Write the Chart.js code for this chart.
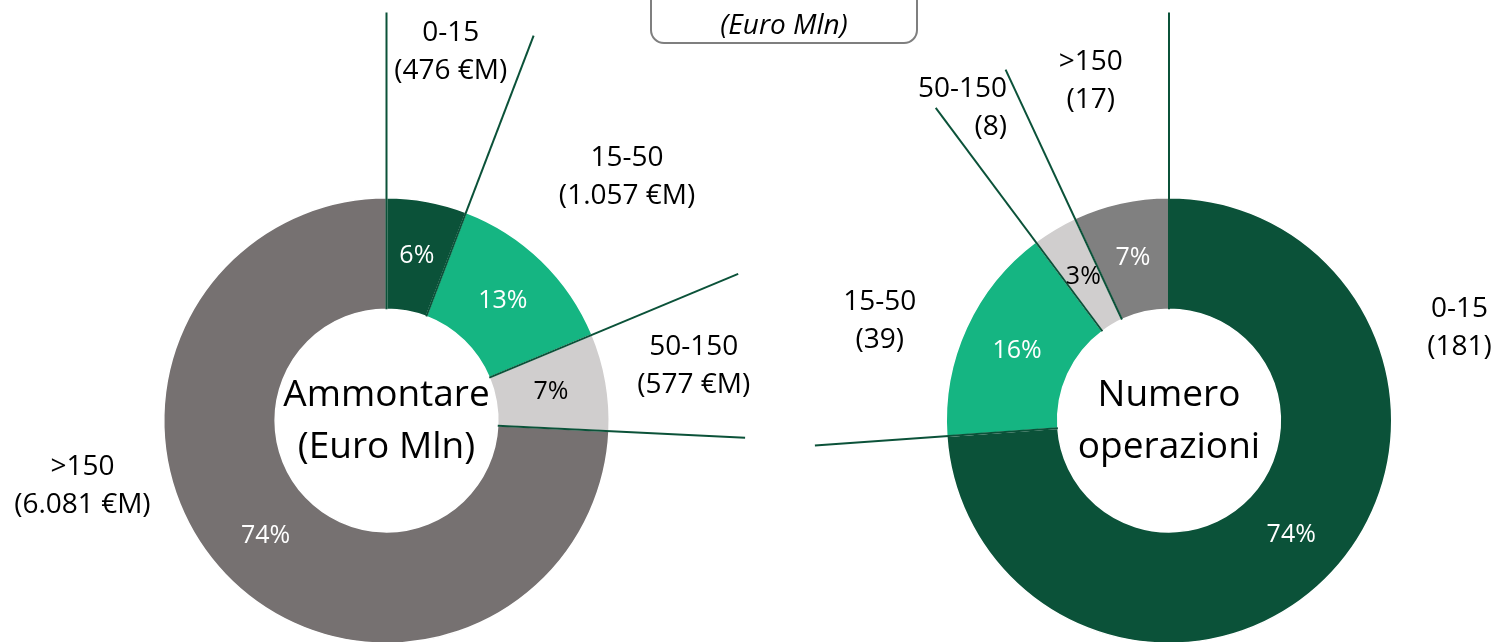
<!DOCTYPE html>
<html>
<head>
<meta charset="utf-8">
<script src="https://cdn.jsdelivr.net/npm/chart.js@4.4.0/dist/chart.umd.min.js"></script>
<style>
  html, body { margin: 0; padding: 0; background: #fff; overflow: hidden; }
  #wrap { position: relative; width: 1501px; height: 642px; overflow: hidden; }
  .cv { position: absolute; top: 0; height: 660px; }
  #left { left: 0; width: 760px; }
  #right { left: 760px; width: 741px; }
  #unit {
    position: absolute; left: 650px; top: -40px; width: 264px; height: 80px;
    border: 2px solid #7f7f7f; border-radius: 14px; box-sizing: content-box;
    font-family: "Open Sans", sans-serif; font-style: italic; font-size: 28px;
    text-align: center; line-height: 30px;
  }
  #unit span { position: absolute; left: 0; right: 0; top: 46px; }
</style>
</head>
<body>
<div id="wrap">
  <div class="cv" id="left"><canvas id="chartLeft"></canvas></div>
  <div class="cv" id="right"><canvas id="chartRight"></canvas></div>
  <div id="unit"><span>(Euro Mln)</span></div>
</div>
<script>
// classes (in order, clockwise from 12 o'clock)
const classes = ['0-15', '15-50', '50-150', '>150'];

// left: amount, Euro Mln
const ammontare = [476, 1057, 577, 6081];
const ammontareLabels = ['(476 €M)', '(1.057 €M)', '(577 €M)', '(6.081 €M)'];
const ammontareColors = ['#0b5239', '#15b582', '#d0cece', '#767171'];

// right: number of deals
const numero = [181, 39, 8, 17];
const numeroLabels = ['(181)', '(39)', '(8)', '(17)'];
const numeroColors = ['#0b5239', '#15b582', '#d0cece', '#808080'];

const FONT = '"Open Sans", sans-serif';
const LINE = '#0b5239';

function rad(deg) { return (deg - 90) * Math.PI / 180; }

// leader lines + percent labels + outer labels + centre text
const decor = {
    id: 'decor',
    afterDatasetsDraw(chart, args, opts) {
        const ctx = chart.ctx;
        const arcs = chart.getDatasetMeta(0).data;
        const vals = chart.data.datasets[0].data;
        const total = vals.reduce(function(a, b) { return a + b; }, 0);
        const cx = arcs[0].x, cy = arcs[0].y;
        ctx.save();
        // leader lines along each slice start
        ctx.strokeStyle = LINE;
        ctx.lineWidth = 2;
        arcs.forEach(function(a, i) {
            const ang = a.startAngle;
            ctx.beginPath();
            ctx.moveTo(cx + Math.cos(ang) * a.innerRadius, cy + Math.sin(ang) * a.innerRadius);
            ctx.lineTo(cx + Math.cos(ang) * opts.leader[i], cy + Math.sin(ang) * opts.leader[i]);
            ctx.stroke();
        });
        // percentages
        ctx.font = '25px ' + FONT;
        ctx.textAlign = 'center';
        ctx.textBaseline = 'middle';
        arcs.forEach(function(a, i) {
            const mid = (a.startAngle + a.endAngle) / 2;
            const r = (a.innerRadius + a.outerRadius) / 2;
            ctx.fillStyle = opts.pctColor[i];
            ctx.fillText(Math.round(vals[i] / total * 100) + '%', cx + Math.cos(mid) * r, cy + Math.sin(mid) * r);
        });
        // outer labels
        ctx.font = '28px ' + FONT;
        ctx.fillStyle = '#000';
        opts.labelAt.forEach(function(p, i) {
            const x = cx + Math.cos(rad(p[0])) * p[1];
            const y = cy + Math.sin(rad(p[0])) * p[1];
            ctx.textAlign = p[2] || 'center';
            ctx.fillText(chart.data.labels[i], x, y - 19);
            ctx.fillText(opts.valueLabels[i], x, y + 19);
        });
        // centre text
        ctx.font = '37px ' + FONT;
        ctx.textAlign = 'center';
        opts.center.forEach(function(t, k) {
            ctx.fillText(t, cx, cy - 25 + k * 52);
        });
        ctx.restore();
    }
};

function makeDonut(id, values, colors, valueLabels, pad, decorOpts) {
    decorOpts.valueLabels = valueLabels;
    return new Chart(document.getElementById(id), {
        type: 'doughnut',
        data: { labels: classes, datasets: [{ data: values, backgroundColor: colors, borderColor: '#fff', borderWidth: 1.5 }] },
        options: {
            responsive: true, maintainAspectRatio: false, animation: false,
            cutout: '50%',
            layout: { padding: pad },
            plugins: { legend: { display: false }, tooltip: { enabled: false }, decor: decorOpts }
        },
        plugins: [decor]
    });
}

makeDonut('chartLeft', ammontare, ammontareColors, ammontareLabels,
    { left: 163, right: 150, top: 197, bottom: 16 },
    {
        leader: [408, 412, 381, 359],
        labelAt: [[9.9, 374], [44.7, 342], [80, 312], [257.9, 311]],
        pctColor: ['#fff', '#fff', '#000', '#fff'],
        center: ['Ammontare', '(Euro Mln)']
    });

makeDonut('chartRight', numero, numeroColors, numeroLabels,
    { left: 185, right: 108, top: 197, bottom: 16 },
    {
        leader: [408, 355, 390, 387],
        labelAt: [[72.3, 305], [289, 306], [332.6, 352, 'right'], [347, 348]],
        pctColor: ['#fff', '#fff', '#000', '#fff'],
        center: ['Numero', 'operazioni']
    });
</script>
</body>
</html>
